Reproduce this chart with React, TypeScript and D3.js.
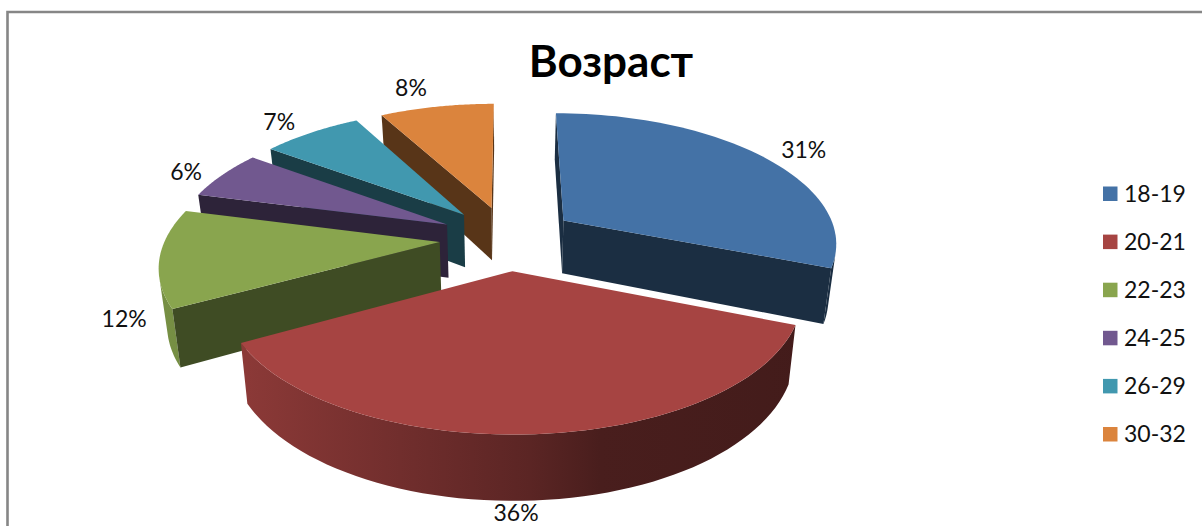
import React from "react";
import * as d3 from "d3";

const categories = ["18-19", "20-21", "22-23", "24-25", "26-29", "30-32"];
const shares = [31, 36, 12, 6, 7, 8];
const colors = ["#4472a6", "#a64442", "#89a54e", "#71588f", "#4198af", "#db843d"];
const chartTitle = "Возраст";

// how far out each percent label sits, in pie radii
const labelRadius = [1.45, 1.33, 1.38, 1.4, 1.45, 1.48];
const labelShiftX = [5, -21, 2, -5, -5, -15];
const labelShiftY = [2, -2, -7, 1, 0, -2];

// flat cut faces of the slices
const sideShade = [0.4, 0.4, 0.46, 0.4, 0.4, 0.4];

const width = 1202;
const height = 526;

// fake 3D camera, numbers fitted by eye on the picture
const cam = { cx: 508, cy: 238, ax: 274, ay: 128, persp: 0.149, perspX: 0.16, depth: 54, converge: 0.024 };
const explode = 0.25;

type Pt = [number, number];
type World = { x: number; y: number };

const project = (w: World): Pt => [
  cam.cx + (cam.ax * w.x) / (1 + cam.perspX * w.y),
  cam.cy - (cam.ay * w.y) / (1 + cam.persp * w.y),
];

const drop = (w: World): Pt => {
  const [x, y] = project(w);
  const d = 1 + cam.persp * w.y;
  return [cam.cx + (x - cam.cx) * (1 - cam.converge), y + cam.depth / d];
};

const polar = (a: number, r: number, o: World = { x: 0, y: 0 }): World => ({
  x: o.x + Math.sin(a) * r,
  y: o.y + Math.cos(a) * r,
});

const line = d3.line<Pt>();

// the side of the pie goes darker from left to right
const wallShade = d3
  .scaleLinear<number>()
  .domain([150, 247, 400, 530, 600, 840])
  .range([0.87, 0.84, 0.68, 0.55, 0.44, 0.4]);

const shade = (c: string, k: number) => {
  const r = d3.rgb(c);
  return d3.rgb(r.r * k, r.g * k, r.b * k).formatHex();
};

const arcs = d3
  .pie<number>()
  .sort(null)
  .startAngle(0)
  .endAngle(2 * Math.PI)(shares);

const App: React.FC = () => {
  const slices = arcs.map((arc, i) => {
    const mid = (arc.startAngle + arc.endAngle) / 2;
    const apex = polar(mid, explode);
    const steps = d3.range(0, 61).map((k) => arc.startAngle + ((arc.endAngle - arc.startAngle) * k) / 60);
    const rim = steps.map((a) => polar(a, 1, apex));

    // walk the outline clockwise, keep the edges that face the camera
    const faces = (p: World, q: World) => d3.polygonArea([project(p), project(q), drop(q), drop(p)]) > 0;
    const flat: Pt[][] = [];
    if (faces(apex, rim[0])) flat.push([project(apex), project(rim[0]), drop(rim[0]), drop(apex)]);
    const last = rim[rim.length - 1];
    if (faces(last, apex)) flat.push([project(last), project(apex), drop(apex), drop(last)]);

    const round: Pt[][] = [];
    let run: World[] = [];
    rim.forEach((w, k) => {
      const ok = k < rim.length - 1 && faces(w, rim[k + 1]);
      if (ok) run.push(w);
      else if (run.length) {
        run.push(w);
        round.push([...run.map(project), ...run.map(drop).reverse()]);
        run = [];
      }
    });

    const top = [project(apex), ...rim.map(project)];

    // label: out along the middle of the slice, lower if it hangs in front of the wall
    const lw = polar(mid, labelRadius[i]);
    const [lx, ly] = project(lw);
    const labelY = lw.y < 0 ? ly + cam.depth * 1.15 : ly;

    return { i, flat, round, top, lx: lx + labelShiftX[i], ly: labelY + labelShiftY[i] };
  });

  // back to front
  const paintOrder = [5, 4, 3, 2, 0, 1];

  const legendY = d3
    .scalePoint<string>()
    .domain(categories)
    .range([193.5, 434]);

  return (
    <svg
      width={width}
      height={height}
      style={{ position: "absolute", left: 0, top: 0, background: "#fff" }}
    >
      <defs>
        {colors.map((c, i) => (
          <linearGradient
            key={c}
            id={`wall-${i}`}
            gradientUnits="userSpaceOnUse"
            x1={wallShade.domain()[0]}
            x2={wallShade.domain()[5]}
            y1={0}
            y2={0}
          >
            {wallShade.domain().map((x) => (
              <stop
                key={x}
                offset={(x - 150) / (840 - 150)}
                stopColor={shade(c, wallShade(x))}
              />
            ))}
          </linearGradient>
        ))}
      </defs>

      <path d={`M7.5,${height}V12H${width}`} fill="none" stroke="#868686" strokeWidth={2.6} />

      <text
        x={611}
        y={77}
        textAnchor="middle"
        fontFamily="Lato, sans-serif"
        fontWeight={700}
        fontSize={44}
        fill="#000"
      >
        {chartTitle}
      </text>

      {paintOrder.map((idx) => {
        const s = slices[idx];
        return (
          <g key={categories[idx]}>
            {s.round.map((poly, k) => (
              <path key={k} d={line(poly) + "Z"} fill={`url(#wall-${idx})`} />
            ))}
            {s.flat.map((poly, k) => (
              <path key={k} d={line(poly) + "Z"} fill={shade(colors[idx], sideShade[idx])} />
            ))}
            <path d={line(s.top) + "Z"} fill={colors[idx]} />
          </g>
        );
      })}

      {slices.map((s) => (
        <text
          key={s.i}
          x={s.lx}
          y={s.ly}
          dy="0.5em"
          textAnchor="middle"
          fontFamily="Lato, sans-serif"
          fontSize={23}
          fill="#111"
        >
          {shares[s.i]}%
        </text>
      ))}

      {categories.map((c, i) => (
        <g key={c} transform={`translate(1103,${legendY(c)})`}>
          <rect x={0} y={-7} width={14.5} height={14.5} fill={colors[i]} />
          <text x={21} dy="0.36em" fontFamily="Lato, sans-serif" fontSize={23} fill="#111">
            {c}
          </text>
        </g>
      ))}
    </svg>
  );
};

export default App;
